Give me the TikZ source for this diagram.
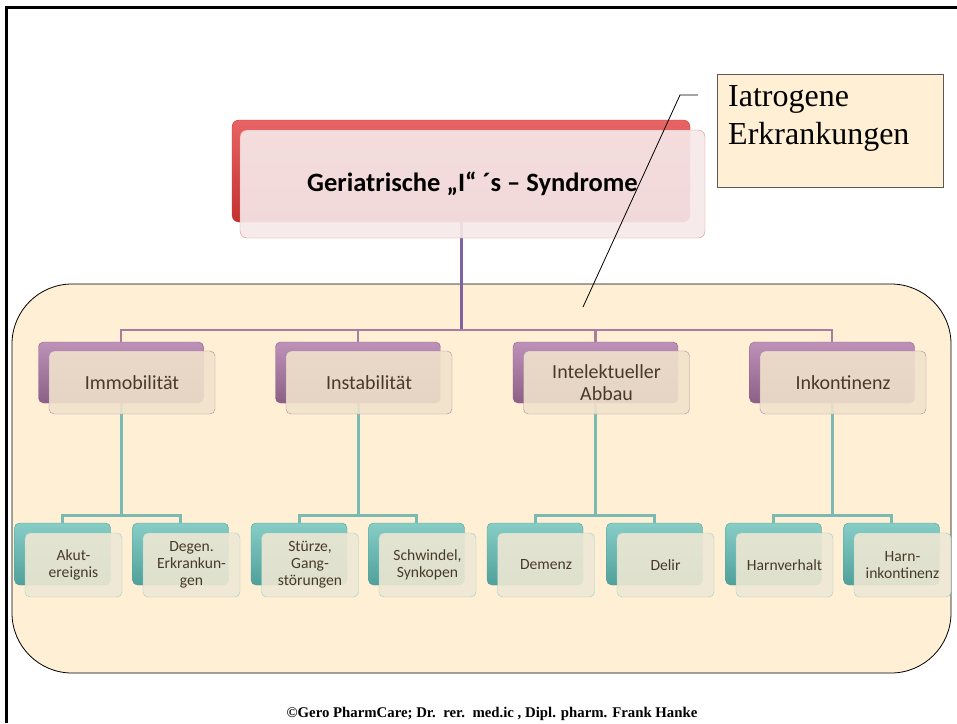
\documentclass[tikz,border=0pt]{standalone}
\usepackage{fontspec}
\setmainfont{Carlito}
\newfontfamily\serifbox{Liberation Serif}
\usetikzlibrary{positioning}

\definecolor{paper}{RGB}{255,239,213}
\definecolor{redtop}{RGB}{232,100,100}
\definecolor{redbot}{RGB}{196,48,48}
\definecolor{redline}{RGB}{228,140,140}
\definecolor{redfill}{RGB}{246,232,232}
\definecolor{mauvetop}{RGB}{190,145,185}
\definecolor{mauvebot}{RGB}{140,95,135}
\definecolor{mauveline}{RGB}{180,135,170}
\definecolor{mauvefill}{RGB}{240,226,204}
\definecolor{tealtop}{RGB}{135,205,198}
\definecolor{tealbot}{RGB}{80,160,155}
\definecolor{tealline}{RGB}{150,210,204}
\definecolor{tealfill}{RGB}{238,232,212}
\definecolor{linkpurple}{RGB}{128,100,162}
\definecolor{linkmauve}{RGB}{168,125,158}
\definecolor{linkteal}{RGB}{122,186,178}
\definecolor{boxtext}{RGB}{72,58,40}

\tikzset{
  titleback/.style={rounded corners=7pt, draw=redbot, top color=redtop, bottom color=redbot,
    minimum width=458pt, minimum height=102pt},
  titlefront/.style={rounded corners=7pt, draw=redline, fill=redfill, fill opacity=0.92, text opacity=1,
    minimum width=465pt, minimum height=108pt, font=\fontsize{26.5}{30}\selectfont\bfseries},
  groupback/.style={rounded corners=5pt, draw=mauvebot, top color=mauvetop, bottom color=mauvebot,
    minimum width=165pt, minimum height=61pt},
  groupfront/.style={rounded corners=5pt, draw=mauveline, fill=mauvefill, fill opacity=0.9, text opacity=1,
    minimum width=166pt, minimum height=63pt, align=center, text=boxtext,
    font=\fontsize{20}{22.5}\selectfont},
  itemback/.style={rounded corners=5pt, draw=tealbot, top color=tealtop, bottom color=tealbot,
    minimum width=96pt, minimum height=62pt},
  itemfront/.style={rounded corners=5pt, draw=tealline, fill=tealfill, fill opacity=0.9, text opacity=1,
    minimum width=97pt, minimum height=64pt, align=center, text=boxtext,
    font=\fontsize{15.6}{17}\selectfont},
  toplink/.style={draw=linkpurple, line width=3pt},
  grouplink/.style={draw=linkmauve, line width=2.2pt},
  itemlink/.style={draw=linkteal, line width=3pt}
}

\begin{document}
\begin{tikzpicture}[x=1pt,y=-1pt]
  \useasboundingbox (0,0) rectangle (957,723);
  % frame
  \draw [line width=3pt] (6.5,723) -- (6.5,7.5) -- (957,7.5);
  % background panel
  \draw [fill=paper, rounded corners=60pt, line width=0.8pt] (12,284) rectangle (951,673);

  % back boxes
  \node [titleback] (titleb) at (461,171) {};
  \node [groupback] (immb) at (121,372.5) {};
  \node [groupback] (insb) at (358,372.5) {};
  \node [groupback] (intb) at (595.5,372.5) {};
  \node [groupback] (inkb) at (832,372.5) {};
  \node [itemback] (akutb) at (62.5,554) {};
  \node [itemback] (degenb) at (180.5,554) {};
  \node [itemback] (stuerzeb) at (299,554) {};
  \node [itemback] (schwindelb) at (416.5,554) {};
  \node [itemback] (demenzb) at (535,554) {};
  \node [itemback] (delirb) at (654.5,554) {};
  \node [itemback] (verhaltb) at (773.5,554) {};
  \node [itemback] (harnb) at (891.5,554) {};

  % connectors
  \coordinate (barone) at (461,330);
  \coordinate (bartwo) at (0,515);
  \draw [toplink] (titleb.south) -- (barone);
  \draw [grouplink] (barone) -| (immb.north);
  \draw [grouplink] (barone) -| (insb.north);
  \draw [grouplink] (barone) -| (intb.north);
  \draw [grouplink] (barone) -| (inkb.north);
  \draw [itemlink] (immb.south) -- (immb.south |- bartwo) -| (akutb.north);
  \draw [itemlink] (immb.south |- bartwo) -| (degenb.north);
  \draw [itemlink] (insb.south) -- (insb.south |- bartwo) -| (stuerzeb.north);
  \draw [itemlink] (insb.south |- bartwo) -| (schwindelb.north);
  \draw [itemlink] (intb.south) -- (intb.south |- bartwo) -| (demenzb.north);
  \draw [itemlink] (intb.south |- bartwo) -| (delirb.north);
  \draw [itemlink] (inkb.south) -- (inkb.south |- bartwo) -| (verhaltb.north);
  \draw [itemlink] (inkb.south |- bartwo) -| (harnb.north);

  % front boxes
  \node [titlefront] (title) at (472.5,184) {Geriatrische „I“ ´s – Syndrome};
  \node [groupfront] (imm) at (132,382.5) {Immobilität};
  \node [groupfront] (ins) at (369,382.5) {Instabilität};
  \node [groupfront] (int) at (606.5,382.5) {Intelektueller\\Abbau};
  \node [groupfront] (ink) at (843,382.5) {Inkontinenz};
  \node [itemfront] (akut) at (73.5,565) {Akut-\\ereignis};
  \node [itemfront] (degen) at (191.5,565) {Degen.\\Erkrankun-\\gen};
  \node [itemfront] (stuerze) at (310,565) {Stürze,\\Gang-\\störungen};
  \node [itemfront] (schwindel) at (427.5,565) {Schwindel,\\Synkopen};
  \node [itemfront] (demenz) at (546,565) {Demenz};
  \node [itemfront] (delir) at (665.5,565) {Delir};
  \node [itemfront] (verhalt) at (784.5,565) {Harnverhalt};
  \node [itemfront] (harn) at (902.5,565) {Harn-\\inkontinenz};

  % callout
  \node [draw=black!65, fill=paper, line width=0.8pt, minimum width=226pt, minimum height=113pt,
    anchor=north west] (iatro) at (717,74) {};
  \node [anchor=north west, align=left, inner sep=0pt, font=\serifbox\fontsize{32}{38.5}\selectfont]
    (iatrotext) at (728,85) {Iatrogene\\Erkrankungen};
  \coordinate (calltip) at (583,307);
  \coordinate (callknee) at (680,95);
  \coordinate (callend) at (698,95);
  \draw [line width=0.8pt] (calltip) -- (callknee) -- (callend);

  % footer
  \node [font=\serifbox\bfseries\fontsize{14.8}{17}\selectfont] (footer) at (492,714)
    {©Gero PharmCare; Dr.\ \ rer.\ \ med.ic , Dipl. pharm. Frank Hanke};
\end{tikzpicture}
\end{document}
